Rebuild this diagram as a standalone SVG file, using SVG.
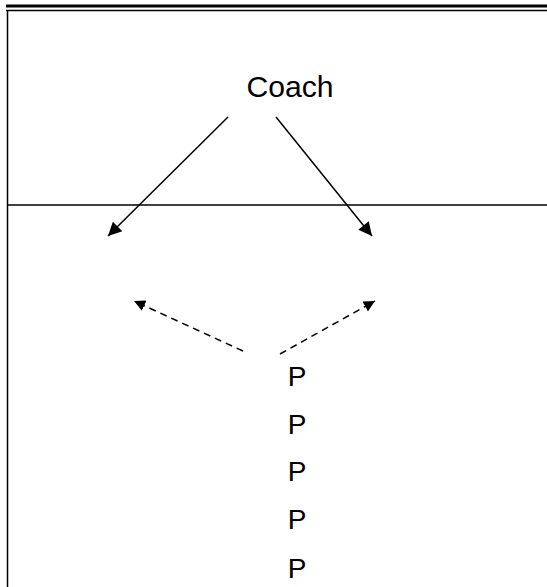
<svg xmlns="http://www.w3.org/2000/svg" width="547" height="587" viewBox="0 0 547 587">
<style>
.t{font-family:"Liberation Sans",Arial,sans-serif;fill:#000}
.b{stroke:#000;fill:none}
.c{stroke:#000;stroke-width:1.5;fill:none}
.d{stroke:#000;stroke-width:1.5;fill:none;stroke-dasharray:7,5}
</style>
<defs>
<marker id="ah" viewBox="0 0 10 10" refX="10" refY="5" markerWidth="11" markerHeight="9" markerUnits="strokeWidth" orient="auto"><path d="M0,0L10,5L0,10z" fill="#000"/></marker>
<marker id="ahs" viewBox="0 0 10 10" refX="10" refY="5" markerWidth="7.5" markerHeight="7.5" markerUnits="strokeWidth" orient="auto"><path d="M0,0L10,5L0,10z" fill="#000"/></marker>
</defs>
<rect width="547" height="587" fill="#fff"/>
<g id="frame">
<line class="b" x1="6" y1="6" x2="547" y2="6" stroke-width="3"/>
<line class="b" x1="6" y1="10.5" x2="547" y2="10.5" stroke-width="1.5"/>
<line class="b" x1="7.5" y1="10" x2="7.5" y2="587" stroke-width="1.5"/>
<line class="b" x1="7" y1="205" x2="547" y2="205" stroke-width="1.5"/>
</g>
<g id="coach"><text class="t" x="290" y="97" font-size="29" text-anchor="middle" textLength="87" lengthAdjust="spacingAndGlyphs">Coach</text></g>
<g id="players">
<text class="t" x="297" y="386" font-size="28" text-anchor="middle">P</text>
<text class="t" x="297" y="433.5" font-size="28" text-anchor="middle">P</text>
<text class="t" x="297" y="481" font-size="28" text-anchor="middle">P</text>
<text class="t" x="297" y="528.5" font-size="28" text-anchor="middle">P</text>
<text class="t" x="297" y="577.5" font-size="28" text-anchor="middle">P</text>
</g>
<g id="connectors">
<line class="c" x1="228" y1="117" x2="108" y2="236" marker-end="url(#ah)"/>
<line class="c" x1="276" y1="117" x2="372" y2="236" marker-end="url(#ah)"/>
<line class="d" x1="243" y1="351" x2="134" y2="301" marker-end="url(#ahs)"/>
<line class="d" x1="280" y1="354" x2="375" y2="301" marker-end="url(#ahs)"/>
</g>
</svg>
